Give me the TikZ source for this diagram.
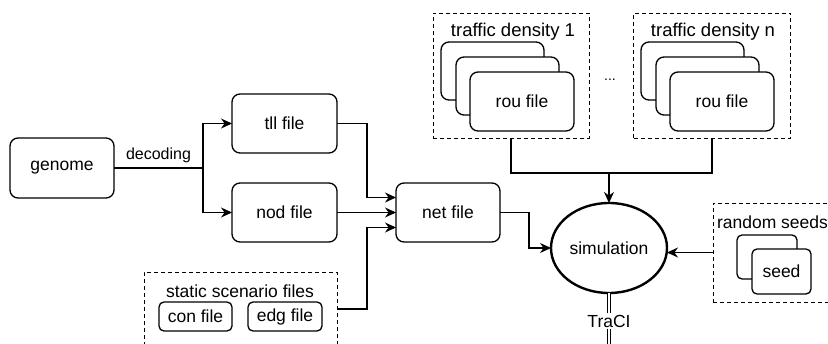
\documentclass[tikz,border=0pt]{standalone}
\usepackage{fontspec}
\setmainfont{Liberation Sans}
\usetikzlibrary{arrows.meta,shapes.geometric,calc}
\begin{document}
\begin{tikzpicture}[x=1pt,y=-1pt,
  every node/.style={inner sep=0pt,outer sep=0pt},
  txt/.style={font=\fontsize{17.5}{21}\selectfont},
  ttl/.style={font=\fontsize{18.5}{22}\selectfont},
  box/.style={draw,line width=1.3pt,rounded corners=8pt,fill=white,txt},
  sbox/.style={draw,line width=1.3pt,rounded corners=5pt,fill=white,txt},
  dbox/.style={draw,line width=1pt,dash pattern=on 4pt off 3pt},
  conn/.style={line width=1.3pt},
  arr/.style={conn,-{Stealth[length=11pt,width=10pt]}}]
\useasboundingbox (0,0) rectangle (828,343);
\clip (0,0) rectangle (828,343);
% left part
\node[box,minimum width=104pt,minimum height=60pt] (genome) at (62,168) {genome};
\node[box,minimum width=105pt,minimum height=59pt] (tll) at (284.5,123.5) {tll file};
\node[box,minimum width=105pt,minimum height=59pt] (nod) at (284.5,212.5) {nod file};
\node[box,minimum width=104pt,minimum height=59pt] (net) at (448,212.5) {net file};
\node[draw,ellipse,line width=2.4pt,minimum width=116pt,minimum height=90pt,txt] (sim) at (609,248) {simulation};
% static scenario files
\node[dbox,minimum width=193pt,minimum height=90pt] (st) at (240.5,317) {};
\node[txt] (sttitle) at (240,291) {static scenario files};
\node[sbox,minimum width=73pt,minimum height=29pt] (con) at (195.5,316.5) {con file};
\node[sbox,minimum width=74pt,minimum height=29pt] (edg) at (285,316.5) {edg file};
\coordinate (so) at (337,309);
% traffic density boxes
\node[dbox,minimum width=156pt,minimum height=125pt] (t1) at (511,75.5) {};
\node[ttl] (t1title) at (513,32) {traffic density 1};
\node[box,minimum width=103pt,minimum height=58pt] (t1a) at (492.5,71) {};
\node[box,minimum width=103pt,minimum height=58pt] (t1b) at (507.5,86) {};
\node[box,minimum width=104pt,minimum height=59pt] (t1c) at (522,101.5) {rou file};
\node[dbox,minimum width=157pt,minimum height=125pt] (tn) at (712,75.5) {};
\node[ttl] (tntitle) at (713,32) {traffic density n};
\node[box,minimum width=103pt,minimum height=58pt] (tna) at (692.5,71) {};
\node[box,minimum width=103pt,minimum height=58pt] (tnb) at (707.5,86) {};
\node[box,minimum width=104pt,minimum height=59pt] (tnc) at (722,101.5) {rou file};
\node[font=\fontsize{14}{16}\selectfont] (dots) at (610,80) {...};
% random seeds
\node[dbox,minimum width=130pt,minimum height=99pt] (rs) at (778,252.5) {};
\node[txt,anchor=west] (rstitle) at (717,222) {random seeds};
\node[sbox,minimum width=60pt,minimum height=44pt] (seeda) at (767,257) {};
\node[sbox,minimum width=59pt,minimum height=45pt] (seedb) at (781.5,271.5) {seed};
% connectors
\coordinate (d) at (203,168);
\draw[conn] (genome.east) -- node[above=5pt,font=\fontsize{16}{19}\selectfont] (declbl) {decoding} (d);
\draw[arr] (d) |- (tll.west);
\draw[arr] (d) |- (nod.west);
\draw[arr] (tll.east) -- ++(30,0) |- ([yshift=15pt]net.west);
\draw[arr] (nod.east) -- (net.west);
\draw[arr] (so) -- ++(30,0) |- ([yshift=-15pt]net.west);
\draw[arr] (net.east) -- ++(29,0) |- (sim.west);
\coordinate (j) at (609,173);
\draw[conn] (t1.south) |- (j);
\draw[conn] (tn.south) |- (j);
\draw[arr] (j) -- (sim.north);
\draw[arr] (rs.west) -- (sim.east |- rs.west);
\coordinate (bot) at (609,360);
\draw[line width=1pt,double,double distance=2.6pt] (sim.south) -- (bot);
\node[txt,fill=white,inner ysep=2pt] (traci) at (609,321) {TraCI};
\end{tikzpicture}
\end{document}
